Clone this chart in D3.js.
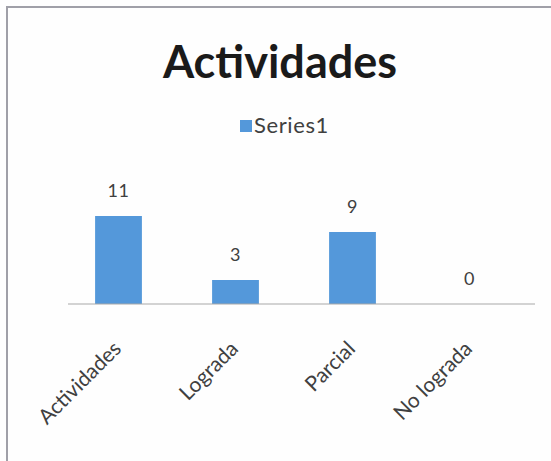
<!DOCTYPE html>
<html>
<head>
<meta charset="utf-8">
<script src="https://cdn.jsdelivr.net/npm/d3@7"></script>
<style>
  html, body { margin: 0; padding: 0; background: #fefefe; }
  svg { display: block; font-family: Lato, "Open Sans", sans-serif; }
</style>
</head>
<body>
<svg width="551" height="461"></svg>
<script>
const categories = ['Actividades', 'Lograda', 'Parcial', 'No lograda'];
const values = [11, 3, 9, 0];
const seriesName = 'Series1';
const chartTitle = 'Actividades';

const svg = d3.select('svg');
const barColor = '#5498da';
const textColor = '#404040';

// marco del gráfico
svg.append('rect')
.attr('x', 7).attr('y', 7)
.attr('width', 560).attr('height', 470)
.attr('fill', '#fefefe')
.attr('stroke', '#a0a0a8')
.attr('stroke-width', 2);

const x = d3.scaleBand()
.domain(categories)
.range([60, 528])
.paddingInner(0.6)
.paddingOuter(0.3);

const y = d3.scaleLinear()
.domain([0, 11])
.range([304, 216]);

// título
svg.append('text')
.attr('x', 280).attr('y', 78)
.attr('text-anchor', 'middle')
.attr('font-size', 45)
.attr('font-weight', 'bold')
.attr('fill', '#1a1a1a')
.text(chartTitle);

// leyenda
const legend = svg.append('g').attr('transform', 'translate(240,120)');
legend.append('rect')
.attr('width', 12).attr('height', 12)
.attr('fill', barColor);
legend.append('text')
.attr('x', 14).attr('y', 13)
.attr('font-size', 22)
.attr('letter-spacing', 0.6)
.attr('fill', textColor)
.text(seriesName);

// barras
svg.append('g')
.selectAll('rect')
.data(values)
.enter().append('rect')
.attr('x', (d, i) => x(categories[i]))
.attr('width', x.bandwidth())
.attr('y', d => y(d))
.attr('height', d => y(0) - y(d))
.attr('fill', barColor);

// etiquetas de datos
svg.append('g')
.selectAll('text')
.data(values)
.enter().append('text')
.attr('x', (d, i) => x(categories[i]) + x.bandwidth() / 2)
.attr('y', d => y(d) - 19)
.attr('text-anchor', 'middle')
.attr('font-size', 18)
.attr('letter-spacing', 0.5)
.attr('fill', textColor)
.text(d => d);

// eje x
const axis = svg.append('g')
.attr('transform', 'translate(0,' + y(0) + ')')
.call(d3.axisBottom(x).tickSize(0).tickPadding(0));
axis.select('.domain').remove();
axis.append('line')
.attr('x1', 68).attr('x2', 535)
.attr('stroke', '#a8a8a8')
.attr('stroke-width', 1.2);
axis.selectAll('.tick text')
.attr('font-family', 'Lato, "Open Sans", sans-serif')
.attr('font-size', 21)
.attr('fill', textColor)
.attr('text-anchor', 'end')
.attr('dy', 0)
.attr('transform', 'translate(4,46) rotate(-45)');
</script>
</body>
</html>
